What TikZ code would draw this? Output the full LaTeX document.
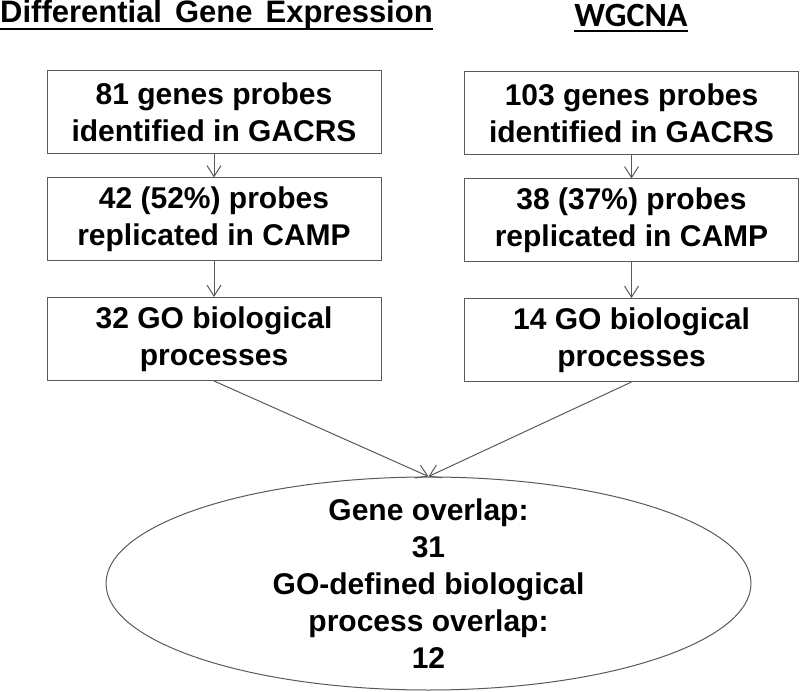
\documentclass[tikz,border=0pt]{standalone}
\usepackage{fontspec}
\setmainfont{Liberation Sans}
\newfontfamily\headfont{Carlito}
\usetikzlibrary{arrows.meta,shapes.geometric}
\newcommand\degfont{\fontsize{31}{37}\selectfont\bfseries\spaceskip=13pt\relax}

\begin{document}
\begin{tikzpicture}[x=1pt, y=-1pt, >={Straight Barb[length=11pt,width=14pt]},
  font=\fontsize{30}{37}\selectfont\bfseries,
  stepbox/.style={draw=black!65, line width=1pt, minimum width=334pt, minimum height=83pt, align=center, inner sep=0pt},
  flow/.style={->, draw=black!65, line width=1pt},
  rule/.style={line width=2.2pt}]
  \useasboundingbox (0,0) rectangle (800,692);
  % titles
  \node[anchor=base west, inner sep=0pt, font=\degfont] (degtitle) at (0,23) {Differential Gene Expression};
  \node[anchor=base, inner sep=0pt, font=\fontsize{34}{40}\selectfont\headfont\bfseries] (wgtitle) at (631,27) {WGCNA};
  \draw[rule] ([yshift=-6pt]degtitle.base west) -- ([yshift=-6pt]degtitle.base east);
  \draw[rule] ([yshift=-4pt]wgtitle.base west) -- ([yshift=-4pt]wgtitle.base east);
  % left column
  \node[stepbox] (degA) at (214,112.5) {81 genes probes\\identified in GACRS};
  \node[stepbox] (degB) at (214,219.5) {42 (52\%) probes\\replicated in CAMP};
  \node[stepbox] (degC) at (214,339) {32 GO biological\\processes};
  % right column
  \node[stepbox] (wgA) at (631.5,113) {103 genes probes\\identified in GACRS};
  \node[stepbox] (wgB) at (631.5,220.5) {38 (37\%) probes\\replicated in CAMP};
  \node[stepbox] (wgC) at (631.5,340) {14 GO biological\\processes};
  % overlap
  \node[ellipse, draw=black!65, line width=1pt, minimum width=645pt, minimum height=213pt, inner sep=0pt] (overlap) at (428.5,583.5) {};
  \node[align=center, inner sep=0pt] (overlaptext) at (overlap.center) {Gene overlap:\\31\\GO-defined biological\\process overlap:\\12};
  \draw[flow] (degA) -- (degB);
  \draw[flow] (degB) -- (degC);
  \draw[flow] (wgA) -- (wgB);
  \draw[flow] (wgB) -- (wgC);
  \draw[flow] (degC.south) -- (overlap.north);
  \draw[flow] (wgC.south) -- (overlap.north);
\end{tikzpicture}
\end{document}
